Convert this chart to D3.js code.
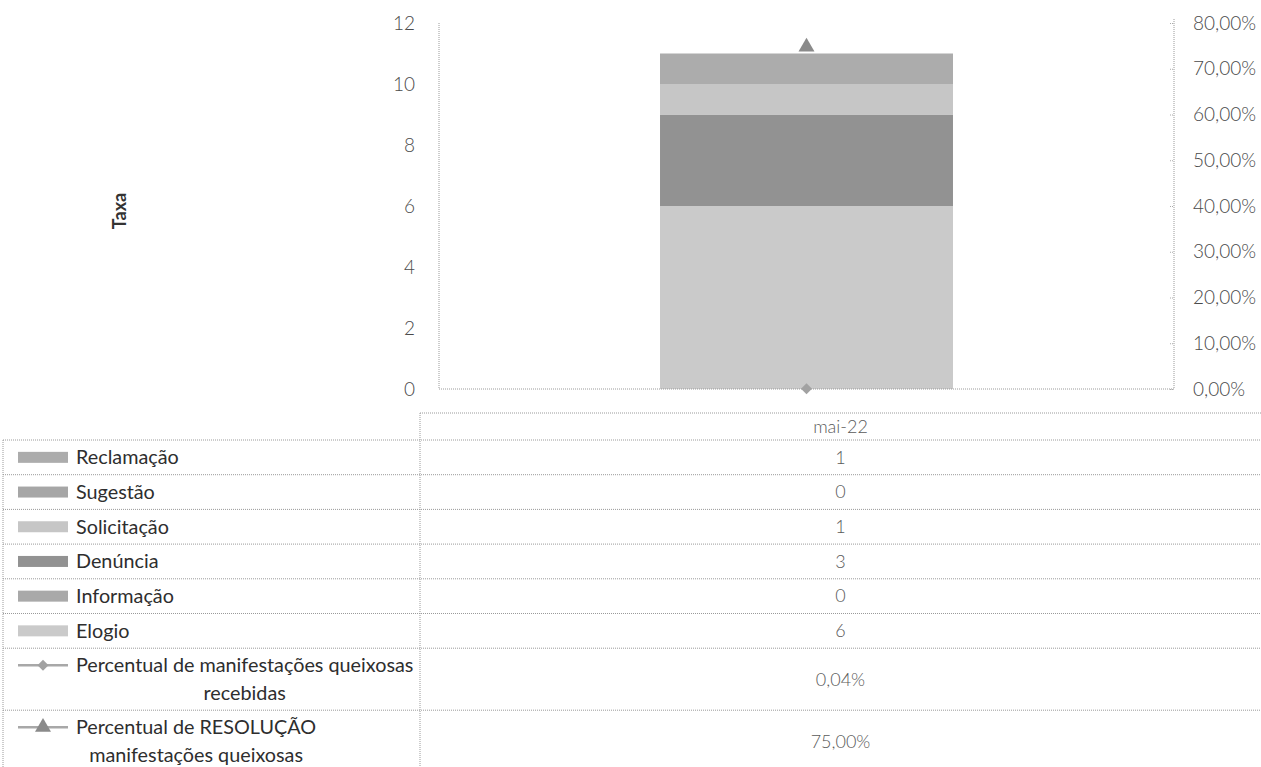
<!DOCTYPE html>
<meta charset="utf-8">
<style>
body { margin: 0; background: #fff; }
text { font-family: Lato, "Open Sans", sans-serif; }
.grid { stroke: #9a9a9a; stroke-width: 1; stroke-dasharray: 1,1; fill: none; }
.tick-lbl { font-size: 19px; fill: #4a4a4a; font-weight: 300; }
.cell { font-size: 18px; fill: #5a5a5a; font-weight: 300; }
.lbl { font-size: 19.8px; fill: #2e2e2e; }
</style>
<svg width="1261" height="767"></svg>
<script src="https://d3js.org/d3.v7.min.js"></script>
<script>

// data
var categories = ["mai-22"];
var seriesNames = ["Reclamação", "Sugestão", "Solicitação", "Denúncia", "Informação", "Elogio"];
var reclamacao = [1];
var sugestao = [0];
var solicitacao = [1];
var denuncia = [3];
var informacao = [0];
var elogio = [6];
var percRecebidas = [0.0004];
var percResolucao = [0.75];
var leftTicks = [0, 2, 4, 6, 8, 10, 12];
var rightTicks = [0, 0.1, 0.2, 0.3, 0.4, 0.5, 0.6, 0.7, 0.8];

var colors = {
  "Reclamação": "#acacac",
  "Sugestão": "#a6a6a6",
  "Solicitação": "#c6c6c6",
  "Denúncia": "#929292",
  "Informação": "#a9a9a9",
  "Elogio": "#cacaca"
};

var svg = d3.select("svg");

var plot = {left: 439, right: 1174, top: 23, bottom: 389};

var x = d3.scaleBand().domain(categories).range([plot.left, plot.right]).padding(0.43);
var y = d3.scaleLinear().domain([0, 12]).range([plot.bottom, plot.top]);
var y2 = d3.scaleLinear().domain([0, 0.8]).range([plot.bottom, plot.top]);

// build rows for stacking
var valuesBySeries = {
  "Reclamação": reclamacao, "Sugestão": sugestao, "Solicitação": solicitacao,
  "Denúncia": denuncia, "Informação": informacao, "Elogio": elogio
};
var rows = categories.map(function(c, i) {
  var r = {cat: c};
  seriesNames.forEach(function(s) { r[s] = valuesBySeries[s][i]; });
  return r;
});

// Excel stacks the last table row at the bottom here
var stack = d3.stack().keys(seriesNames.slice().reverse());
var layers = stack(rows);

svg.append("g").selectAll("g")
  .data(layers)
  .enter().append("g")
    .attr("fill", function(d) { return colors[d.key]; })
  .selectAll("rect")
  .data(function(d) { return d; })
  .enter().append("rect")
    .attr("x", function(d) { return x(d.data.cat); })
    .attr("width", x.bandwidth())
    .attr("y", function(d) { return y(d[1]); })
    .attr("height", function(d) { return y(d[0]) - y(d[1]); });

// axes lines (dotted)
svg.append("line").attr("class", "grid")
  .attr("x1", plot.left).attr("x2", plot.left).attr("y1", plot.top).attr("y2", plot.bottom);
svg.append("line").attr("class", "grid")
  .attr("x1", plot.right).attr("x2", plot.right).attr("y1", plot.top - 4).attr("y2", plot.bottom);
svg.append("line").attr("class", "grid")
  .attr("x1", plot.left).attr("x2", plot.right).attr("y1", plot.bottom).attr("y2", plot.bottom);

var yAxis = d3.axisLeft(y).tickValues(leftTicks).tickSize(0).tickPadding(24);
var gl = svg.append("g").attr("transform", "translate(" + plot.left + ",0)").call(yAxis);
gl.select(".domain").remove();
gl.selectAll("text").attr("class", "tick-lbl").attr("font-family", null).attr("font-size", null);

var fmtPct = function(v) { return d3.format(".2f")(v * 100).replace(".", ",") + "%"; };
var yAxis2 = d3.axisRight(y2).tickValues(rightTicks).tickSize(0).tickPadding(19).tickFormat(fmtPct);
var gr = svg.append("g").attr("transform", "translate(" + plot.right + ",0)").call(yAxis2);
gr.select(".domain").remove();
gr.selectAll("text").attr("class", "tick-lbl").attr("font-family", null).attr("font-size", null);
gr.selectAll(".tick").append("line")
  .attr("x1", -4).attr("x2", 0).attr("stroke", "#aaa").attr("stroke-dasharray", "1,1");

// axis title
svg.append("text")
  .attr("transform", "translate(126,211) rotate(-90)")
  .attr("text-anchor", "middle")
  .attr("font-size", 18).attr("font-weight", "bold").attr("fill", "#333")
  .text("Taxa");

// line series markers
var diamondPath = d3.symbol().type(d3.symbolSquare).size(60);
var triangle = d3.symbol().type(d3.symbolTriangle).size(110);

svg.append("g").selectAll("path")
  .data(percRecebidas)
  .enter().append("path")
    .attr("d", diamondPath)
    .attr("fill", "#a2a2a2")
    .attr("transform", function(d, i) { return "translate(" + (x(categories[i]) + x.bandwidth() / 2) + "," + y2(d) + ") rotate(45)"; });

svg.append("g").selectAll("path")
  .data(percResolucao)
  .enter().append("path")
    .attr("d", triangle)
    .attr("fill", "#8a8a8a")
    .attr("transform", function(d, i) { return "translate(" + (x(categories[i]) + x.bandwidth() / 2) + "," + (y2(d) + 1) + ")"; });

// ---- data table ----
var tbl = {x0: 3, x1: 420, x2: 1261, headTop: 413, top: 440, rowH: 34.7, tallH: 62};
var colMid = (tbl.x1 + tbl.x2) / 2;

var tableRows = seriesNames.map(function(s) {
  return {type: "bar", lines: [s], key: s, vals: valuesBySeries[s].map(String), h: tbl.rowH};
});
tableRows.push({type: "diamond", lines: ["Percentual de manifestações queixosas", "recebidas"],
  vals: percRecebidas.map(fmtPct), h: tbl.tallH});
tableRows.push({type: "triangle", lines: ["Percentual de RESOLUÇÃO", "manifestações queixosas"],
  vals: percResolucao.map(fmtPct), h: tbl.tallH});

var yy = tbl.top;
tableRows.forEach(function(r) { r.y0 = yy; yy += r.h; r.y1 = yy; });

var tg = svg.append("g");

// header
tg.append("line").attr("class", "grid").attr("x1", tbl.x1).attr("x2", tbl.x2).attr("y1", tbl.headTop).attr("y2", tbl.headTop);
tg.append("text").attr("class", "cell").attr("x", colMid).attr("y", (tbl.headTop + tbl.top) / 2)
  .attr("dy", "0.35em").attr("text-anchor", "middle").text(categories[0]);

// horizontal lines
var hl = [tbl.top].concat(tableRows.map(function(r) { return r.y1; }));
tg.selectAll("line.h").data(hl).enter().append("line")
  .attr("class", "grid")
  .attr("x1", tbl.x0).attr("x2", tbl.x2)
  .attr("y1", function(d) { return d; }).attr("y2", function(d) { return d; });

tg.append("line").attr("class", "grid").attr("x1", tbl.x0).attr("x2", tbl.x0).attr("y1", tbl.top).attr("y2", 767);
tg.append("line").attr("class", "grid").attr("x1", tbl.x1).attr("x2", tbl.x1).attr("y1", tbl.headTop).attr("y2", 767);

var rowG = tg.selectAll("g.row").data(tableRows).enter().append("g");

rowG.each(function(r) {
  var g = d3.select(this);
  var lineH = 28;
  var firstY = (r.y0 + r.y1) / 2 - (r.lines.length - 1) * lineH / 2;

  // legend key
  if (r.type === "bar") {
    g.append("rect").attr("x", 18).attr("y", firstY - 5.5).attr("width", 50).attr("height", 11)
      .attr("fill", colors[r.key]);
  } else {
    g.append("line").attr("x1", 18).attr("x2", 68).attr("y1", firstY).attr("y2", firstY)
      .attr("stroke", "#a8a8a8").attr("stroke-width", 2.5);
    if (r.type === "diamond") {
      g.append("path").attr("d", diamondPath).attr("fill", "#a2a2a2")
        .attr("transform", "translate(43," + firstY + ") rotate(45)");
    } else {
      g.append("path").attr("d", triangle).attr("fill", "#8a8a8a")
        .attr("transform", "translate(43," + firstY + ")");
    }
  }

  // label lines, centred inside a block as wide as the longest line
  var texts = r.lines.map(function(t, i) {
    return g.append("text").attr("class", "lbl").attr("y", firstY + i * lineH).attr("dy", "0.35em").text(t);
  });
  var widths = texts.map(function(t) { return t.node().getComputedTextLength(); });
  var maxW = d3.max(widths);
  texts.forEach(function(t, i) { t.attr("x", 76 + (maxW - widths[i]) / 2); });

  g.append("text").attr("class", "cell")
    .attr("x", colMid).attr("y", (r.y0 + r.y1) / 2).attr("dy", "0.35em")
    .attr("text-anchor", "middle").text(r.vals[0]);
});

</script>
